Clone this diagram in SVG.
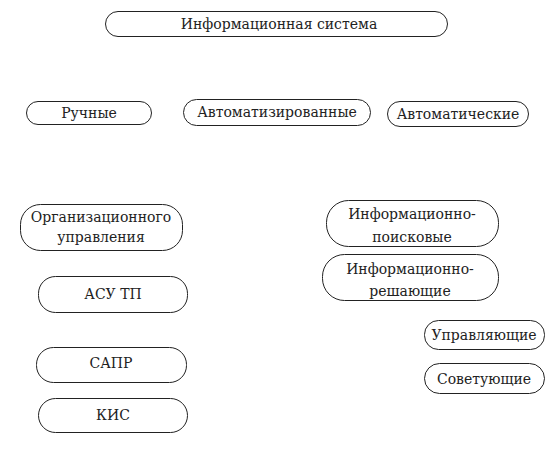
<svg xmlns="http://www.w3.org/2000/svg" width="554" height="450" viewBox="0 0 554 450">
<style>
.n{fill:#fff;stroke:#222;stroke-width:1}
.t{font-family:'DejaVu Serif','Liberation Serif',serif;font-size:14px;fill:#222;text-anchor:middle}
</style>
<rect width="554" height="450" fill="#fff"/>
<g id="is"><rect class="n" x="105.5" y="11.5" width="342" height="25" rx="12.5"/><text class="t" x="279" y="29">Информационная система</text></g>
<g id="manual"><rect class="n" x="26.5" y="101.5" width="125" height="23" rx="11.5"/><text class="t" x="89" y="118">Ручные</text></g>
<g id="autom"><rect class="n" x="183.5" y="99.5" width="187" height="26" rx="13"/><text class="t" x="277" y="117">Автоматизированные</text></g>
<g id="auto"><rect class="n" x="387.5" y="101.5" width="141" height="25" rx="12.5"/><text class="t" x="458" y="119">Автоматические</text></g>
<g id="org"><rect class="n" x="20.5" y="204.5" width="162" height="46" rx="20"/><text class="t" x="101" y="222">Организационного</text><text class="t" x="101" y="242">управления</text></g>
<g id="asutp"><rect class="n" x="38.5" y="276.5" width="149" height="36" rx="17"/><text class="t" x="113" y="299">АСУ ТП</text></g>
<g id="sapr"><rect class="n" x="36.5" y="347.5" width="150" height="35" rx="17"/><text class="t" x="111" y="368">САПР</text></g>
<g id="kis"><rect class="n" x="38.5" y="398.5" width="149" height="34" rx="17"/><text class="t" x="113" y="420">КИС</text></g>
<g id="ips"><rect class="n" x="326.5" y="200.5" width="172" height="46" rx="22"/><text class="t" x="412" y="219">Информационно-</text><text class="t" x="412" y="242">поисковые</text></g>
<g id="irs"><rect class="n" x="322.5" y="254.5" width="176" height="46" rx="22"/><text class="t" x="410" y="274">Информационно-</text><text class="t" x="410" y="296">решающие</text></g>
<g id="upr"><rect class="n" x="424.5" y="320.5" width="120" height="29" rx="14"/><text class="t" x="484" y="340">Управляющие</text></g>
<g id="sov"><rect class="n" x="424.5" y="363.5" width="120" height="30" rx="15"/><text class="t" x="484" y="384">Советующие</text></g>
<g id="connectors"></g>
</svg>
